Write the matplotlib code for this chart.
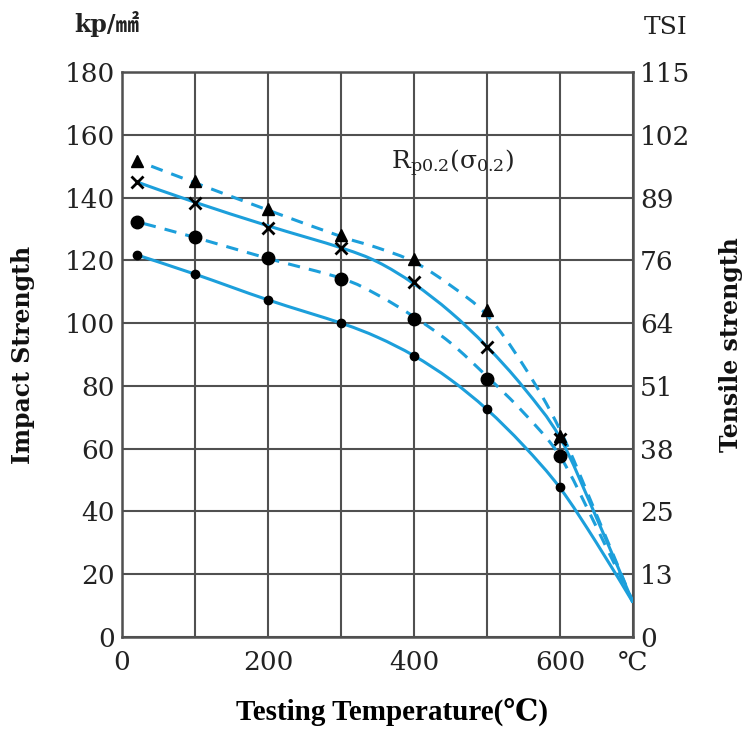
import matplotlib
matplotlib.use("Agg")
import matplotlib.pyplot as plt
from matplotlib.path import Path
from matplotlib.patches import PathPatch

# ---- data ----
marker_temps = [20, 100, 200, 300, 400, 500, 600]
triangle_vals = [151.5, 145.3, 136.4, 128.0, 120.3, 104.2, 64.0]
cross_vals = [145.0, 138.3, 130.4, 124.0, 113.0, 92.5, 63.0]
bigdot_vals = [132.3, 127.3, 120.6, 114.0, 101.3, 82.3, 57.7]
smalldot_vals = [121.6, 115.6, 107.4, 100.0, 89.6, 72.5, 47.8]

upper_solid_t = [20, 100, 200, 300, 350, 400, 450, 500, 550, 600, 650, 700]
upper_solid_v = [145.0, 138.5, 131.0, 124.0, 119.5, 112.5, 103.5, 92.5, 79.5, 63.5, 38.0, 11.0]

upper_dash_t = [40, 100, 200, 300, 350, 400, 450, 500, 550, 600, 650, 700]
upper_dash_v = [150.0, 144.7, 136.0, 127.6, 124.0, 119.5, 112.0, 102.5, 86.5, 66.0, 39.0, 11.0]

lower_dash_t = [30, 100, 200, 300, 350, 400, 450, 500, 550, 600, 650, 700]
lower_dash_v = [131.7, 127.3, 120.6, 114.3, 109.0, 102.0, 93.7, 83.0, 71.5, 57.6, 35.0, 11.0]

lower_solid_t = [22, 100, 200, 300, 350, 400, 450, 500, 550, 600, 650, 700]
lower_solid_v = [121.6, 115.6, 107.4, 100.0, 95.5, 89.6, 82.0, 72.5, 61.0, 47.5, 30.0, 11.0]

x_ticks = [0, 100, 200, 300, 400, 500, 600, 700]
x_labels = ['0', '', '200', '', '400', '', '600', '℃']
y_ticks = [0, 20, 40, 60, 80, 100, 120, 140, 160, 180]
y_labels = ['0', '20', '40', '60', '80', '100', '120', '140', '160', '180']
tsi_labels = ['0', '13', '25', '38', '51', '64', '76', '89', '102', '115']

# ---- style ----
blue = '#1c9fdb'
grid_c = '#505050'
serif = ['DejaVu Serif', 'DejaVu Sans', 'Noto Sans CJK SC']
plt.rcParams['mathtext.fontset'] = 'dejavuserif'


def smooth_path(xs, ys):
    """Catmull-Rom curve through the given points, drawn as Bezier segments."""
    pts = list(zip(xs, ys))
    n = len(pts)
    verts = [pts[0]]
    codes = [Path.MOVETO]
    for i in range(n - 1):
        p0 = pts[i - 1] if i > 0 else pts[i]
        p1 = pts[i]
        p2 = pts[i + 1]
        p3 = pts[i + 2] if i + 2 < n else pts[i + 1]
        c1 = (p1[0] + (p2[0] - p0[0]) / 6, p1[1] + (p2[1] - p0[1]) / 6)
        c2 = (p2[0] - (p3[0] - p1[0]) / 6, p2[1] - (p3[1] - p1[1]) / 6)
        verts += [c1, c2, p2]
        codes += [Path.CURVE4] * 3
    return Path(verts, codes)


fig = plt.figure(figsize=(7.49, 7.37), dpi=100)
ax = fig.add_axes([122/749, 1-637/737, (633-122)/749, (637-72)/737])

ax.set_xlim(0, 700)
ax.set_ylim(0, 180)

lw = 2.2
for t, v, ls in [(upper_solid_t, upper_solid_v, '-'),
                 (lower_solid_t, lower_solid_v, '-'),
                 (upper_dash_t, upper_dash_v, (0, (4, 3))),
                 (lower_dash_t, lower_dash_v, (0, (4, 3)))]:
    ax.add_patch(PathPatch(smooth_path(t, v), facecolor='none', edgecolor=blue,
                           lw=lw, ls=ls, zorder=3, capstyle='butt'))

ax.plot(marker_temps, triangle_vals, ls='none', marker='^', ms=9, color='black', zorder=4)
ax.plot(marker_temps, cross_vals, ls='none', marker='x', ms=8, mew=2, color='black', zorder=4)
ax.plot(marker_temps, bigdot_vals, ls='none', marker='o', ms=9, color='black', zorder=4)
ax.plot(marker_temps, smalldot_vals, ls='none', marker='o', ms=6, color='black', zorder=4)

ax.set_xticks(x_ticks)
ax.set_xticklabels(x_labels)
ax.set_yticks(y_ticks)
ax.set_yticklabels(y_labels)
ax.grid(True, color=grid_c, lw=1.5, zorder=1)
ax.set_axisbelow(True)
for s in ax.spines.values():
    s.set_color(grid_c)
    s.set_linewidth(1.8)
ax.tick_params(axis='both', length=0, labelsize=19, colors='#222222')
ax.tick_params(axis='x', pad=9)
ax.tick_params(axis='y', pad=5)
for lab in ax.get_xticklabels() + ax.get_yticklabels():
    lab.set_family(serif)

ax2 = ax.twinx()
ax2.set_ylim(0, 180)
ax2.set_yticks(y_ticks)
ax2.set_yticklabels(tsi_labels)
ax2.tick_params(axis='y', length=0, labelsize=19, colors='#222222', pad=5)
for lab in ax2.get_yticklabels():
    lab.set_family(serif)
for s in ax2.spines.values():
    s.set_visible(False)

ax.text(453, 151, r'R$_{\mathrm{p0.2}}$(σ$_{0.2}$)', fontsize=18, family=serif,
        ha='center', va='center', color='#222222', zorder=5)

fig.text(107/749, 1-24/737, 'kp/㎟', fontsize=17, fontweight='bold', family=serif,
         ha='center', va='center', color='#222222')
fig.text(666/749, 1-27/737, 'TSI', fontsize=18, family=serif,
         ha='center', va='center', color='#222222')
fig.text(23/749, 1-355/737, 'Impact Strength', rotation=90, fontsize=17, fontweight='bold',
         family=serif, ha='center', va='center', color='#111111')
fig.text(731/749, 1-345/737, 'Tensile strength', rotation=90, fontsize=17, fontweight='bold',
         family=serif, ha='center', va='center', color='#111111')
fig.text(392/749, 1-712/737, 'Testing Temperature(℃)', fontsize=21, fontweight='bold',
         family=['Liberation Serif', 'DejaVu Serif', 'Noto Sans CJK SC'],
         ha='center', va='center', color='black')

fig.savefig('out.png', dpi=100)
